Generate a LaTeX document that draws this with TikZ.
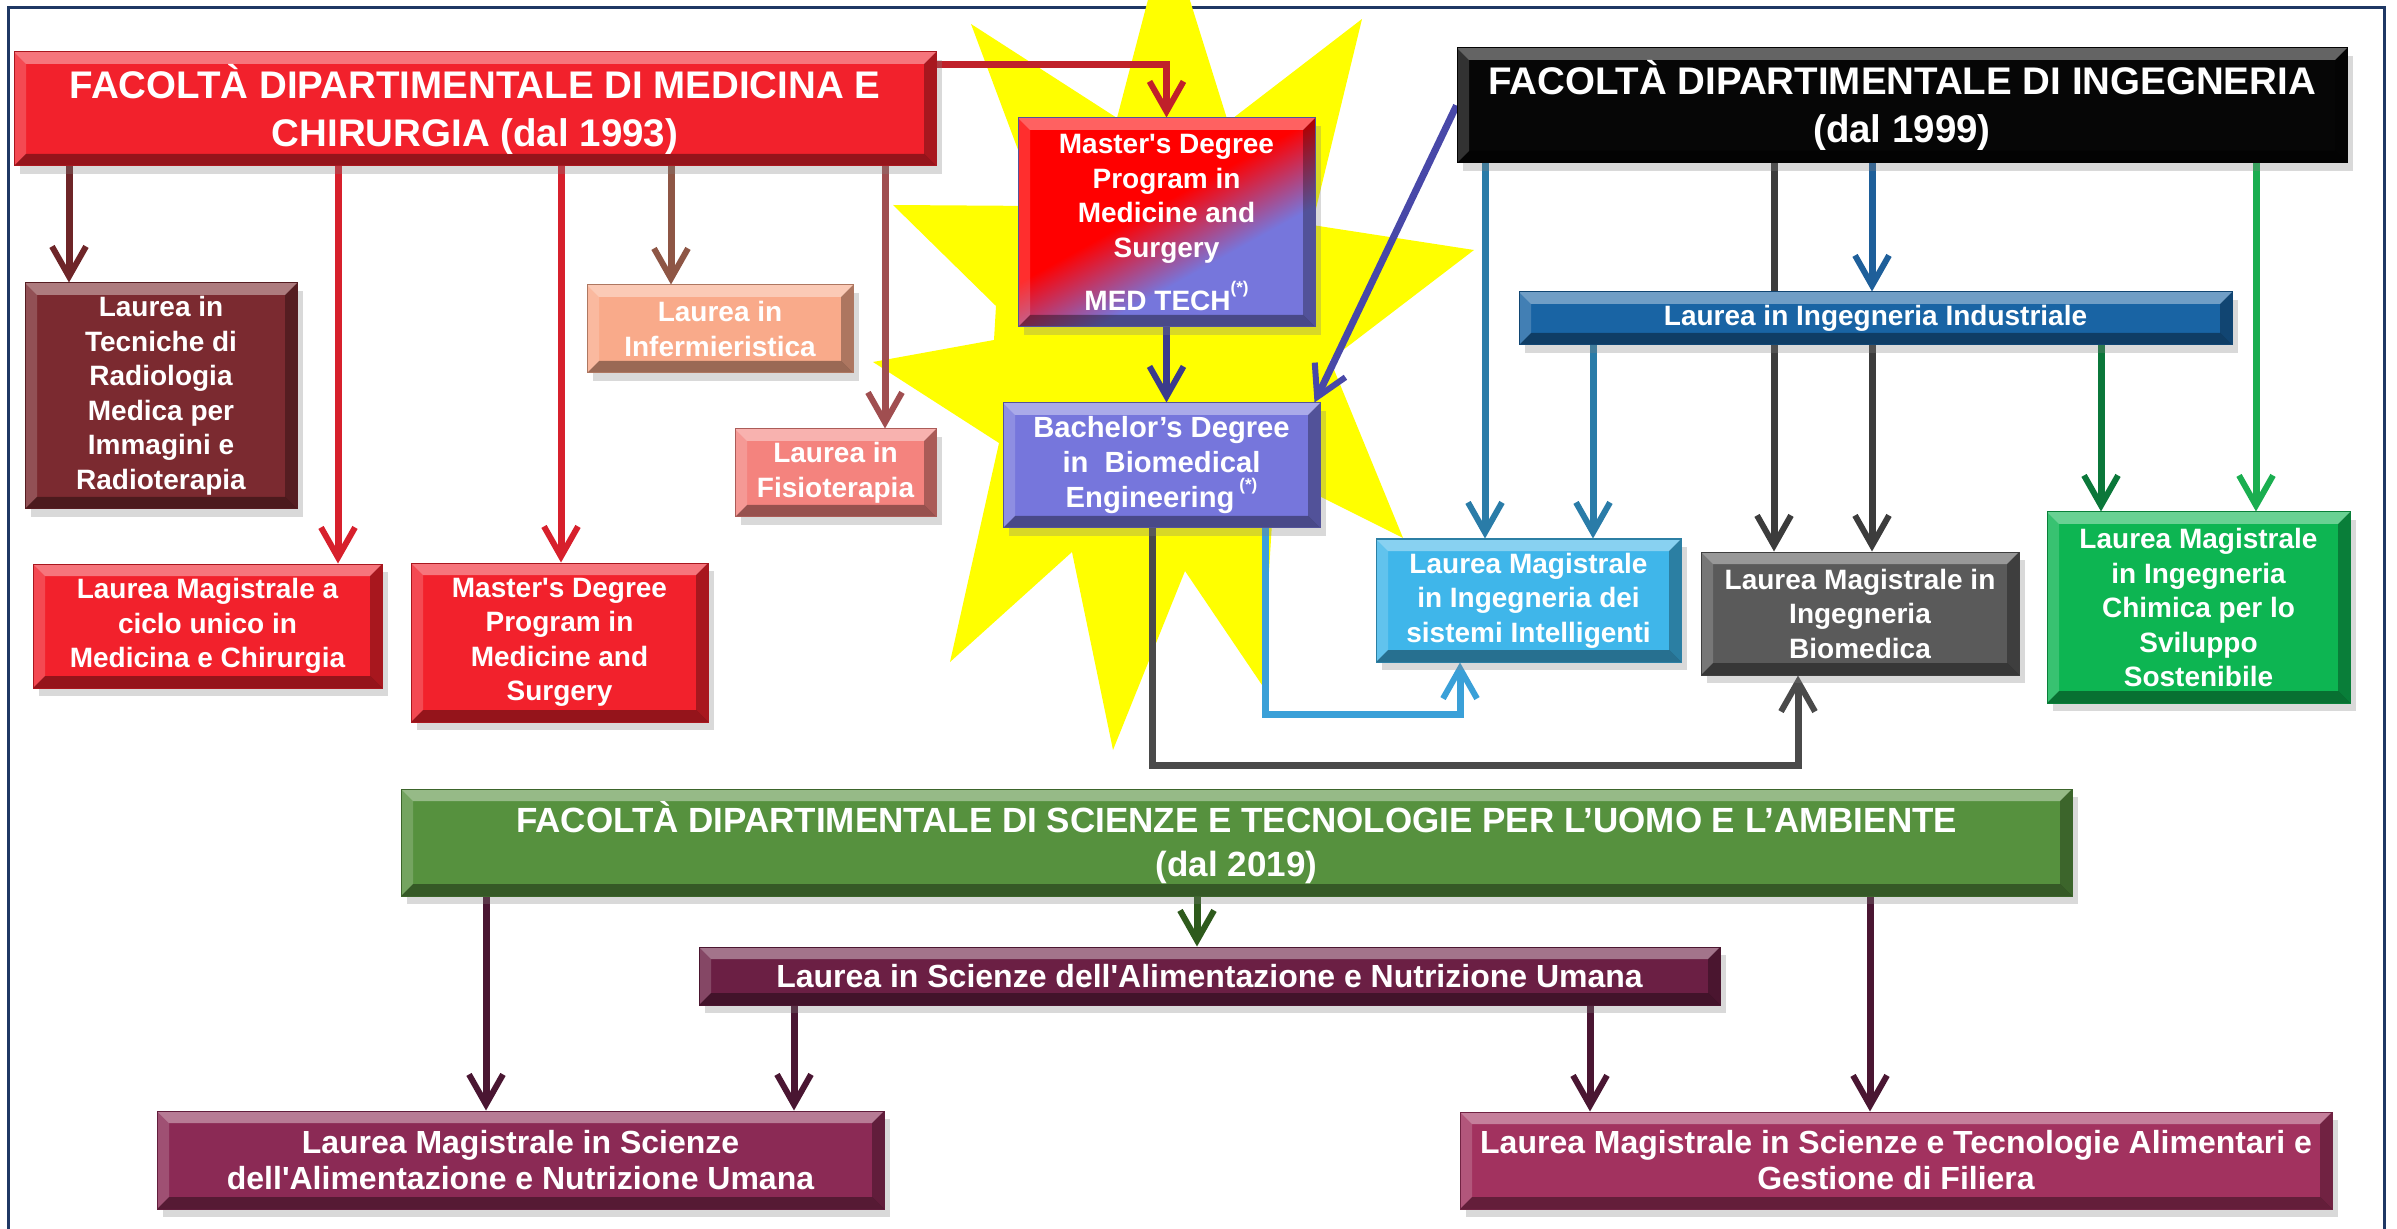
\documentclass[tikz,border=0pt]{standalone}
\usepackage{fontspec}
\setmainfont{Liberation Sans}
\usetikzlibrary{arrows.meta,shadows,backgrounds}
\definecolor{medred}{HTML}{F2212C}
\definecolor{radioc}{HTML}{7B2A30}
\definecolor{infermc}{HTML}{F9AA8A}
\definecolor{fisioc}{HTML}{F4837E}
\definecolor{mtred}{HTML}{FF0000}
\definecolor{mtblue}{HTML}{7676DC}
\definecolor{bachc}{HTML}{7676DC}
\definecolor{ingc}{HTML}{060606}
\definecolor{indusc}{HTML}{1964A4}
\definecolor{sistc}{HTML}{3FB6EA}
\definecolor{biomc}{HTML}{5A5A5A}
\definecolor{chimc}{HTML}{0DB552}
\definecolor{greenhc}{HTML}{56913E}
\definecolor{alimc}{HTML}{6B1F44}
\definecolor{lmscic}{HTML}{8B2A55}
\definecolor{lmtecc}{HTML}{A2325F}
\definecolor{framec}{HTML}{1F3864}
\definecolor{starc}{HTML}{FFFF00}
\definecolor{lRadio}{HTML}{6E2528}
\definecolor{lRed}{HTML}{D7202C}
\definecolor{lInferm}{HTML}{8E5645}
\definecolor{lFisio}{HTML}{A04E50}
\definecolor{lMT}{HTML}{C0202A}
\definecolor{lNavy}{HTML}{3B3B8C}
\definecolor{lIngB}{HTML}{4848A8}
\definecolor{lTeal}{HTML}{2A7CA8}
\definecolor{lGray}{HTML}{3C3C3C}
\definecolor{lIndus}{HTML}{1E5F9A}
\definecolor{lGreen}{HTML}{1AAE50}
\definecolor{lDGreen}{HTML}{0B773A}
\definecolor{lBSist}{HTML}{3AA0D8}
\definecolor{lBBiom}{HTML}{4A4A4A}
\definecolor{lMaroon}{HTML}{4A1632}
\definecolor{lGreenH}{HTML}{2E5A1C}
\pgfdeclarehorizontalshading{medtechsh}{100bp}{color(0bp)=(mtred); color(46bp)=(mtred); color(62bp)=(mtblue); color(100bp)=(mtblue)}
\newcommand\astsup{\raisebox{0.6em}{\fontsize{8.5pt}{8.5pt}\selectfont(*)}}
\newcommand\mybevel{%
 \fill[white,opacity=.38] (path picture bounding box.north west) -- (path picture bounding box.north east) -- ([xshift=-6pt,yshift=-6pt]path picture bounding box.north east) -- ([xshift=6pt,yshift=-6pt]path picture bounding box.north west) -- cycle;
 \fill[white,opacity=.18] (path picture bounding box.north west) -- (path picture bounding box.south west) -- ([xshift=6pt,yshift=6pt]path picture bounding box.south west) -- ([xshift=6pt,yshift=-6pt]path picture bounding box.north west) -- cycle;
 \fill[black,opacity=.3] (path picture bounding box.north east) -- (path picture bounding box.south east) -- ([xshift=-6pt,yshift=6pt]path picture bounding box.south east) -- ([xshift=-6pt,yshift=-6pt]path picture bounding box.north east) -- cycle;
 \fill[black,opacity=.38] (path picture bounding box.south west) -- (path picture bounding box.south east) -- ([xshift=-6pt,yshift=6pt]path picture bounding box.south east) -- ([xshift=6pt,yshift=6pt]path picture bounding box.south west) -- cycle;
}
\tikzset{
 bx/.style={fill=#1, draw=#1!70!black, line width=0.5pt, text=white, align=center, inner sep=2pt,
   font=\bfseries\fontsize{14pt}{17.25pt}\selectfont,
   drop shadow={shadow xshift=3pt, shadow yshift=-4pt, opacity=.3},
   path picture={\mybevel}},
 hdfont/.style={font=\bfseries\fontsize{19.25pt}{24pt}\selectfont},
 bigfont/.style={font=\bfseries\fontsize{16pt}{18pt}\selectfont},
 ar/.style={draw=#1, line width=3.5pt, -{Straight Barb[length=15pt,width=17pt,line width=3pt]}},
}
\begin{document}
\begin{tikzpicture}[x=0.5pt,y=-0.5pt]
\useasboundingbox (0,0) rectangle (2397,1229);
% nodes
\node[bx=medred, hdfont, minimum width=461pt, minimum height=57pt] (med) at (475,109) {FACOLTÀ DIPARTIMENTALE DI MEDICINA E\\CHIRURGIA (dal 1993)};
\node[bx=ingc, hdfont, minimum width=445pt, minimum height=57.5pt] (ing) at (1902,105.5) {FACOLTÀ DIPARTIMENTALE DI INGEGNERIA\\(dal 1999)};
\node[bx=mtblue, shade, shading=medtechsh, shading angle=-61, minimum width=148.5pt, minimum height=104.5pt] (medtech) at (1166.5,222.5) {Master\textquotesingle s Degree\\Program in\\Medicine and\\Surgery\\[8pt]MED TECH\astsup};
\node[bx=bachc, font=\bfseries\fontsize{14.6pt}{17.5pt}\selectfont, minimum width=158.5pt, minimum height=62.5pt] (bach) at (1161.5,465.5) {Bachelor’s Degree\\in\ \ Biomedical\\Engineering\,\astsup};
\node[bx=radioc, minimum width=136pt, minimum height=113pt] (radio) at (161,396) {Laurea in\\Tecniche di\\Radiologia\\Medica per\\Immagini e\\Radioterapia};
\node[bx=infermc, minimum width=133pt, minimum height=44pt] (inferm) at (720,329) {Laurea in\\Infermieristica};
\node[bx=fisioc, minimum width=100.5pt, minimum height=44pt] (fisio) at (835.5,473) {Laurea in\\Fisioterapia};
\node[bx=medred, minimum width=174.5pt, minimum height=62pt] (ciclo) at (207.5,626) {Laurea Magistrale a\\ciclo unico in\\Medicina e Chirurgia};
\node[bx=medred, minimum width=148.5pt, minimum height=79.5pt] (master) at (559.5,642.5) {Master\textquotesingle s Degree\\Program in\\Medicine and\\Surgery};
\node[bx=indusc, minimum width=356.5pt, minimum height=26.5pt] (indus) at (1875.5,318.5) {Laurea in Ingegneria Industriale};
\node[bx=sistc, minimum width=152.5pt, minimum height=61.5pt] (sist) at (1528.5,600.5) {Laurea Magistrale\\in Ingegneria dei\\sistemi Intelligenti};
\node[bx=biomc, minimum width=159pt, minimum height=61.5pt] (biom) at (1860,613.5) {Laurea Magistrale in\\Ingegneria\\Biomedica};
\node[bx=chimc, minimum width=151.5pt, minimum height=95.5pt] (chim) at (2198.5,607.5) {Laurea Magistrale\\in Ingegneria\\Chimica per lo\\Sviluppo\\Sostenibile};
\node[bx=greenhc, font=\bfseries\fontsize{17.5pt}{22pt}\selectfont, minimum width=835.5pt, minimum height=53.5pt] (green) at (1236.5,842.5) {FACOLTÀ DIPARTIMENTALE DI SCIENZE E TECNOLOGIE PER L’UOMO E L’AMBIENTE\\(dal 2019)};
\node[bx=alimc, bigfont, minimum width=510.5pt, minimum height=29pt] (alim) at (1209.5,976) {Laurea in Scienze dell\textquotesingle Alimentazione e Nutrizione Umana};
\node[bx=lmscic, bigfont, minimum width=363.5pt, minimum height=49pt] (lmsci) at (520.5,1160) {Laurea Magistrale in Scienze\\dell\textquotesingle Alimentazione e Nutrizione Umana};
\node[bx=lmtecc, bigfont, minimum width=436pt, minimum height=48.5pt] (lmtec) at (1896,1160.5) {Laurea Magistrale in Scienze e Tecnologie Alimentari e\\Gestione di Filiera};
\begin{pgfonlayer}{background}
\draw[draw=framec, line width=1.5pt] (8,7.5) rectangle (2384,1240);
\fill[starc] (1167,-73) -- (1228,122) -- (1362,19) -- (1312,225) -- (1474,250) -- (1330,360) -- (1403,538) -- (1275,474) -- (1262,685) -- (1185,571) -- (1113,750) -- (1072,552) -- (950,662) -- (999,443) -- (873,362) -- (994,340) -- (996,306) -- (893,205) -- (1039,206) -- (971,24) -- (1117,118) -- cycle;
% medicine
\draw[ar=lRadio] (med.south -| 69,0) -- (radio.north -| 69,0);
\draw[ar=lRed] (med.south -| 338,0) -- (ciclo.north -| 338,0);
\draw[ar=lRed] (med.south -| 561,0) -- (master.north -| 561,0);
\draw[ar=lInferm] (med.south -| 671,0) -- (inferm.north -| 671,0);
\draw[ar=lFisio] (med.south -| 885,0) -- (fisio.north -| 885,0);
\draw[ar=lMT] (med.east |- 0,65) -| (medtech.north);
\draw[ar=lNavy] (medtech.south) -- (medtech.south |- bach.north);
% engineering
\draw[ar=lIngB] (ing.west) -- ([xshift=-3pt]bach.north east);
\draw[ar=lTeal] (ing.south -| 1485,0) -- (sist.north -| 1485,0);
\draw[ar=lGray] (ing.south -| 1774,0) -- (biom.north -| 1774,0);
\draw[ar=lIndus] (ing.south -| 1872,0) -- (indus.north -| 1872,0);
\draw[ar=lGreen] (ing.south -| 2256,0) -- (chim.north -| 2256,0);
\draw[ar=lTeal] (indus.south -| 1593,0) -- (sist.north -| 1593,0);
\draw[ar=lGray] (indus.south -| 1872,0) -- (biom.north -| 1872,0);
\draw[ar=lDGreen] (indus.south -| 2101,0) -- (chim.north -| 2101,0);
\draw[ar=lBSist] (bach.south -| 1265,0) |- (1460,714) -- (sist.south -| 1460,0);
\draw[ar=lBBiom] (bach.south -| 1152,0) |- (1798,765) -- (biom.south -| 1798,0);
% sciences
\draw[ar=lMaroon] (green.south -| 486,0) -- (lmsci.north -| 486,0);
\draw[ar=lGreenH] (green.south -| 1197,0) -- (alim.north -| 1197,0);
\draw[ar=lMaroon] (green.south -| 1870,0) -- (lmtec.north -| 1870,0);
\draw[ar=lMaroon] (alim.south -| 794,0) -- (lmsci.north -| 794,0);
\draw[ar=lMaroon] (alim.south -| 1590,0) -- (lmtec.north -| 1590,0);
\end{pgfonlayer}
\end{tikzpicture}
\end{document}
